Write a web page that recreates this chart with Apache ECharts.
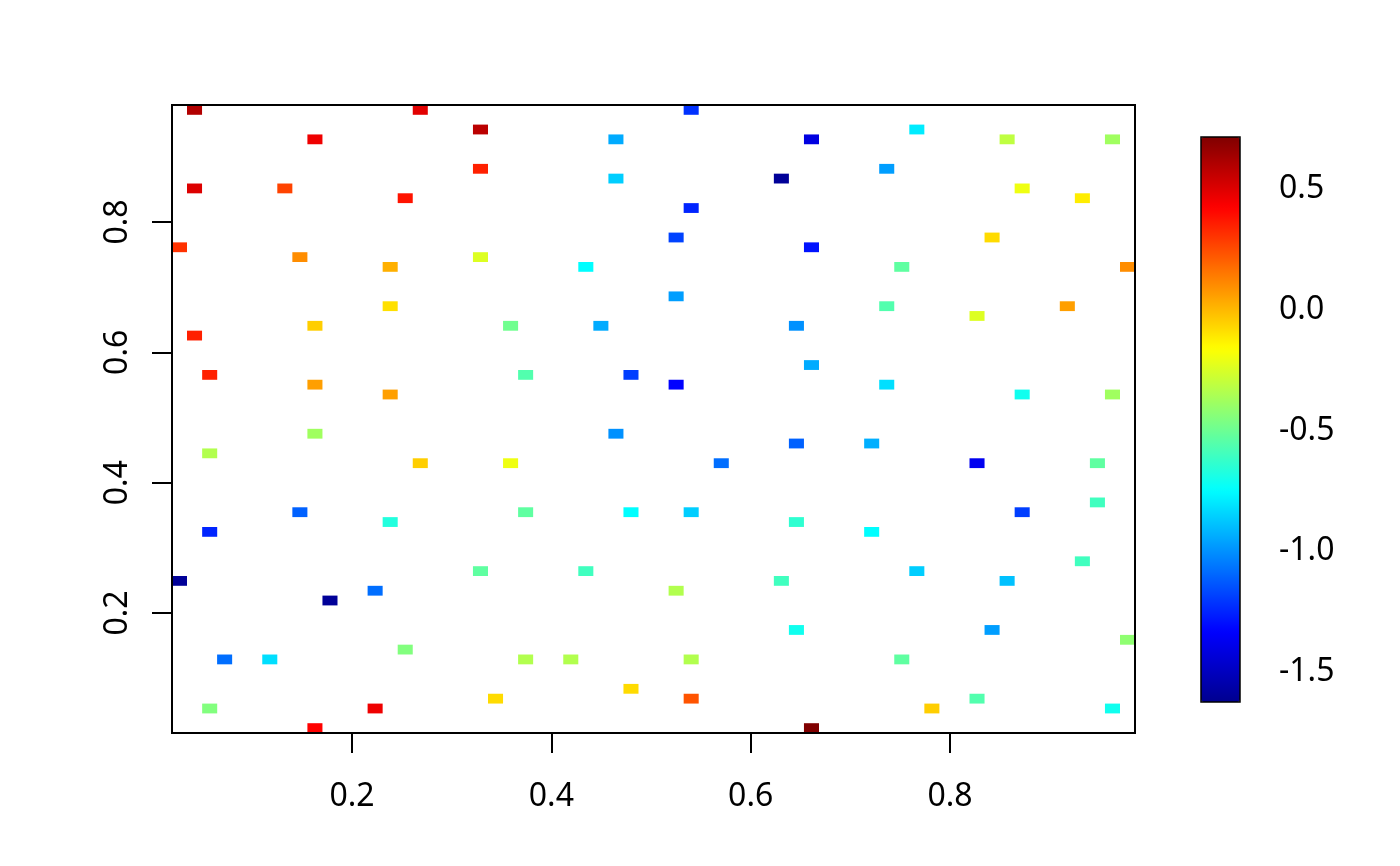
<!DOCTYPE html>
<html>
<head>
<meta charset="utf-8">
<script src="https://cdn.jsdelivr.net/npm/echarts@6/dist/echarts.min.js"></script>
<style>
html,body{margin:0;padding:0;background:#fff;}
#chart{width:1400px;height:866px;}
</style>
</head>
<body>
<div id="chart"></div>
<script>
// ---- data: cell centres (x, y) and value z ----
const xs = [0.0420,0.2685,0.3289,0.1628,0.3289,0.0420,0.1326,0.2534,0.0269,0.1477,0.2383,0.3289,0.2383,
  0.5403,0.4648,0.6610,0.4648,0.6308,0.5403,0.5252,0.6610,0.4346,0.5252,
  0.7667,0.8573,0.9630,0.7365,0.8724,0.9328,0.8422,0.7516,0.9781,0.7365,0.9177,0.8271,
  0.1628,0.0420,0.0572,0.1628,0.2383,0.1628,0.0572,0.2685,0.1477,0.2383,0.0572,
  0.3591,0.4497,0.6459,0.6610,0.3742,0.4799,0.5252,0.4648,0.6459,0.3591,0.5705,0.3742,0.4799,0.5403,0.6459,
  0.7365,0.8724,0.9630,0.7214,0.8271,0.9479,0.9479,0.8724,0.7214,
  0.3289,0.0269,0.2232,0.1779,0.2534,0.0722,0.1175,0.0572,0.2232,0.1628,0.3440,
  0.4346,0.6308,0.5252,0.6459,0.3742,0.4195,0.5403,0.4799,0.5403,0.6610,
  0.9328,0.7667,0.8573,0.8422,0.9781,0.7516,0.8271,0.7818,0.9630];
const ys = [0.9720,0.9720,0.9419,0.9268,0.8816,0.8515,0.8515,0.8365,0.7612,0.7461,0.7311,0.7461,0.6708,
  0.9720,0.9268,0.9268,0.8666,0.8666,0.8214,0.7762,0.7612,0.7311,0.6859,
  0.9419,0.9268,0.9268,0.8816,0.8515,0.8365,0.7762,0.7311,0.7311,0.6708,0.6708,0.6558,
  0.6407,0.6257,0.5654,0.5504,0.5353,0.4751,0.4450,0.4299,0.3547,0.3396,0.3245,
  0.6407,0.6407,0.6407,0.5805,0.5654,0.5654,0.5504,0.4751,0.4601,0.4299,0.4299,0.3547,0.3547,0.3547,0.3396,
  0.5504,0.5353,0.5353,0.4601,0.4299,0.4299,0.3697,0.3547,0.3245,
  0.2643,0.2493,0.2342,0.2192,0.1439,0.1288,0.1288,0.0535,0.0535,0.0234,0.0686,
  0.2643,0.2493,0.2342,0.1740,0.1288,0.1288,0.1288,0.0837,0.0686,0.0234,
  0.2794,0.2643,0.2493,0.1740,0.1589,0.1288,0.0686,0.0535,0.0535];
const zs = [0.60,0.49,0.58,0.46,0.35,0.50,0.27,0.38,0.31,0.10,0.02,-0.24,-0.09,
  -1.22,-0.94,-1.41,-0.86,-1.60,-1.25,-1.18,-1.29,-0.75,-0.97,
  -0.79,-0.31,-0.38,-0.97,-0.20,-0.12,-0.08,-0.53,0.10,-0.56,0.06,-0.24,
  -0.05,0.35,0.35,0.06,0.06,-0.38,-0.34,-0.05,-1.11,-0.67,-1.25,
  -0.49,-0.94,-1.00,-0.94,-0.56,-1.19,-1.33,-1.00,-1.11,-0.20,-1.08,-0.53,-0.75,-0.86,-0.64,
  -0.82,-0.71,-0.38,-0.93,-1.37,-0.53,-0.60,-1.19,-0.75,
  -0.53,-1.60,-1.08,-1.60,-0.45,-1.08,-0.82,-0.45,0.46,0.42,-0.08,
  -0.60,-0.60,-0.34,-0.71,-0.34,-0.34,-0.34,-0.08,0.23,0.72,
  -0.60,-0.86,-0.89,-0.97,-0.42,-0.53,-0.56,-0.05,-0.71];

const xTicks = [0.2, 0.4, 0.6, 0.8];
const yTicks = [0.2, 0.4, 0.6, 0.8];
const barTicks = [-1.5, -1.0, -0.5, 0.0, 0.5];
const zMin = -1.624, zMax = 0.715;
const xMin = 0.0194, xMax = 0.9856, yMin = 0.0159, yMax = 0.9795;
const nCells = 64;

const JET = ['#00008F','#0000FF','#0080FF','#00FFFF','#80FF80','#FFFF00','#FF8000','#FF0000','#800000'];
const FONT = 'Noto Sans';
const cellW = (xMax - xMin) / nCells, cellH = (yMax - yMin) / nCells;

const chart = echarts.init(document.getElementById('chart'), null, {renderer: 'canvas'});
chart.setOption({
  animation: false,
  backgroundColor: '#ffffff',
  grid: [
    {left: 172, top: 105, width: 963, height: 628, show: true, borderColor: '#000', borderWidth: 2, backgroundColor: 'transparent', z: 10},
    {left: 1201, top: 137, width: 39, height: 565, show: true, borderColor: '#000', borderWidth: 1.5, backgroundColor: 'transparent', z: 10}
  ],
  xAxis: [
    {gridIndex: 0, type: 'value', min: xMin, max: xMax,
     axisLine: {show: false}, splitLine: {show: false},
     axisTick: {show: true, customValues: xTicks, length: 20, lineStyle: {color: '#000', width: 2}},
     axisLabel: {customValues: xTicks, fontSize: 32, color: '#000', margin: 48, fontFamily: FONT,
       formatter: v => v.toFixed(1)}},
    {gridIndex: 1, type: 'value', min: 0, max: 1, show: false}
  ],
  yAxis: [
    {gridIndex: 0, type: 'value', min: yMin, max: yMax, position: 'left',
     axisLine: {show: false}, splitLine: {show: false},
     axisTick: {show: true, customValues: yTicks, length: 20, lineStyle: {color: '#000', width: 2}},
     axisLabel: {customValues: yTicks, fontSize: 32, color: '#000', margin: 38, rotate: 90, fontFamily: FONT,
       formatter: v => v.toFixed(1)}},
    {gridIndex: 1, type: 'value', min: zMin, max: zMax, position: 'right',
     axisLine: {show: false}, splitLine: {show: false},
     axisTick: {show: true, customValues: barTicks, length: 20, lineStyle: {color: '#000', width: 2}},
     axisLabel: {customValues: barTicks, fontSize: 32, color: '#000', margin: 39, fontFamily: FONT,
       formatter: v => v.toFixed(1)}}
  ],
  visualMap: {
    type: 'continuous', min: zMin, max: zMax, dimension: 2, seriesIndex: 0,
    inRange: {color: JET}, calculable: false, orient: 'vertical',
    left: 1201, top: 137, itemWidth: 39, itemHeight: 565, padding: 0, text: null,
    hoverLink: false
  },
  series: [{
    type: 'custom', xAxisIndex: 0, yAxisIndex: 0, clip: true,
    data: xs.map((x, i) => [x, ys[i], zs[i]]),
    encode: {x: 0, y: 1},
    renderItem: function (params, api) {
      const c = api.coord([api.value(0), api.value(1)]);
      const s = api.size([cellW, cellH]);
      return {type: 'rect', shape: {x: c[0] - s[0] / 2, y: c[1] - s[1] / 2, width: s[0], height: s[1]},
              style: {fill: api.visual('color')}};
    }
  }]
});
</script>
</body>
</html>
